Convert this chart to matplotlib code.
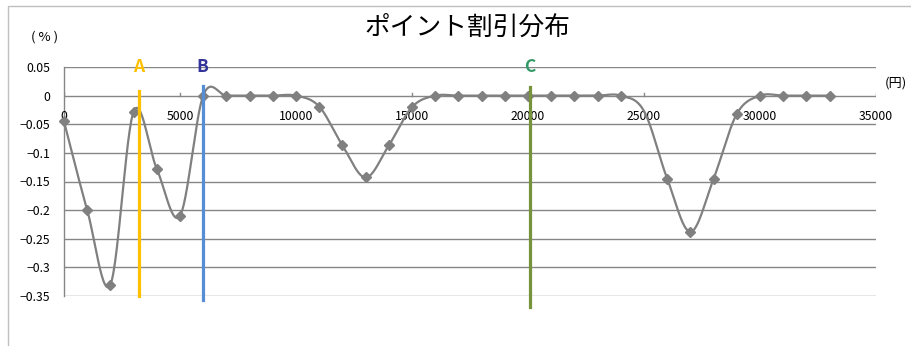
import numpy as np
import matplotlib
matplotlib.use("Agg")
import matplotlib.pyplot as plt
from matplotlib.patches import Rectangle

plt.rcParams['font.family'] = ['Noto Sans CJK JP', 'DejaVu Sans']

# ---- data ----
price = [0, 1000, 2000, 3000, 4000, 5000, 6000, 7000, 8000, 9000,
         10000, 11000, 12000, 13000, 14000, 15000, 16000, 17000, 18000,
         19000, 20000, 21000, 22000, 23000, 24000, 25000,
         26000, 27000, 28000, 29000, 30000, 31000, 32000, 33000]
discount = [-0.045, -0.20, -0.33, -0.028, -0.128, -0.21, 0.0, 0.0, 0.0, 0.0,
            0.0, -0.019, -0.087, -0.143, -0.087, -0.02, 0.0, 0.0, 0.0,
            0.0, 0.0, 0.0, 0.0, 0.0, 0.0, -0.027,
            -0.145, -0.238, -0.145, -0.032, 0.0, 0.0, 0.0, 0.0]
# the 25000 point carries no marker in the original
unmarked = [25000]

yticks = [0.05, 0, -0.05, -0.1, -0.15, -0.2, -0.25, -0.3, -0.35]
ytick_labels = ['0.05', '0', '\u22120.05', '\u22120.1', '\u22120.15', '\u22120.2',
                '\u22120.25', '\u22120.3', '\u22120.35']
xticks = [0, 5000, 10000, 15000, 20000, 25000, 30000, 35000]

# marker lines A, B, C (x, top, bottom)
mark_names = ['A', 'B', 'C']
mark_x = [3250, 6000, 20100]
mark_top = [0.008, 0.017, 0.015]
mark_bottom = [-0.35, -0.357, -0.37]
mark_line_colors = ['#FFC000', '#558ED5', '#77933C']
mark_text_colors = ['#FFC000', '#333399', '#339966']


def smooth(xs, ys, n=30):
    # Excel-like smoothed line: cubic Bezier segments with 1/6 tangents
    p = np.column_stack([xs, ys]).astype(float)
    out = []
    for i in range(len(p) - 1):
        p0 = p[i - 1] if i > 0 else p[i]
        p1, p2 = p[i], p[i + 1]
        p3 = p[i + 2] if i + 2 < len(p) else p[i + 1]
        c1 = p1 + (p2 - p0) / 6
        c2 = p2 - (p3 - p1) / 6
        t = np.linspace(0, 1, n)[:, None]
        seg = ((1 - t) ** 3) * p1 + 3 * ((1 - t) ** 2) * t * c1 \
            + 3 * (1 - t) * t ** 2 * c2 + t ** 3 * p2
        out.append(seg if i == 0 else seg[1:])
    out = np.vstack(out)
    return out[:, 0], out[:, 1]


W, H = 911, 346
fig = plt.figure(figsize=(W / 100, H / 100), dpi=100)
fig.patch.set_facecolor('white')
ax = fig.add_axes([64 / W, 1 - 296 / H, (876 - 64) / W, (296 - 67) / H])

# outer chart border
fig.patches.append(Rectangle((8 / W, -0.1), 1.0, 1 - 6 / H + 0.1,
                             transform=fig.transFigure, fill=False,
                             edgecolor='#BFBFBF', linewidth=1.0))

ax.set_xlim(0, 35000)
ax.set_ylim(-0.35, 0.05)
for s in ['top', 'right', 'bottom']:
    ax.spines[s].set_visible(False)
ax.spines['left'].set_color('#868686')
ax.spines['left'].set_linewidth(1.0)

for yv in yticks:
    ax.axhline(yv, color='#868686', linewidth=1.0, zorder=1)

ax.set_yticks(yticks)
ax.set_yticklabels(ytick_labels, fontsize=8.8)
ax.tick_params(axis='y', length=0, pad=10)
ax.set_xticks([])

# x tick marks and labels sit on the zero line
for xv in xticks:
    ax.plot([xv, xv], [0, 0.0045], color='#868686', linewidth=1.0, zorder=1)
    ax.text(xv, -0.036, str(xv), ha='center', va='center', fontsize=8.8,
            zorder=3)

sx, sy = smooth(price, discount)
ax.plot(sx, sy, color='#808080', linewidth=1.6, zorder=4, clip_on=False)
marked = [i for i, xv in enumerate(price) if xv not in unmarked]
ax.plot(price, discount, linestyle='none', marker='D', markersize=5.5,
        markevery=marked, color='#808080', zorder=5, clip_on=False)

for name, xv, top, bot, lc, tc in zip(mark_names, mark_x, mark_top,
                                      mark_bottom, mark_line_colors,
                                      mark_text_colors):
    ax.plot([xv, xv], [top, bot], color=lc, linewidth=2.3, zorder=6,
            clip_on=False)
    ax.text(xv - 30, 0.05, name, color=tc, ha='center', va='center',
            fontsize=12.5, fontweight='bold', zorder=7)

fig.text(467 / W, 1 - 28 / H, 'ポイント割引分布', ha='center', va='center',
         fontsize=18.5)
fig.text(45 / W, 1 - 37 / H, '( % )', ha='center', va='center', fontsize=9.5)
fig.text(907 / W, 1 - 83 / H, '(円)', ha='right', va='center', fontsize=9.5)

fig.savefig('out.png', dpi=100)
